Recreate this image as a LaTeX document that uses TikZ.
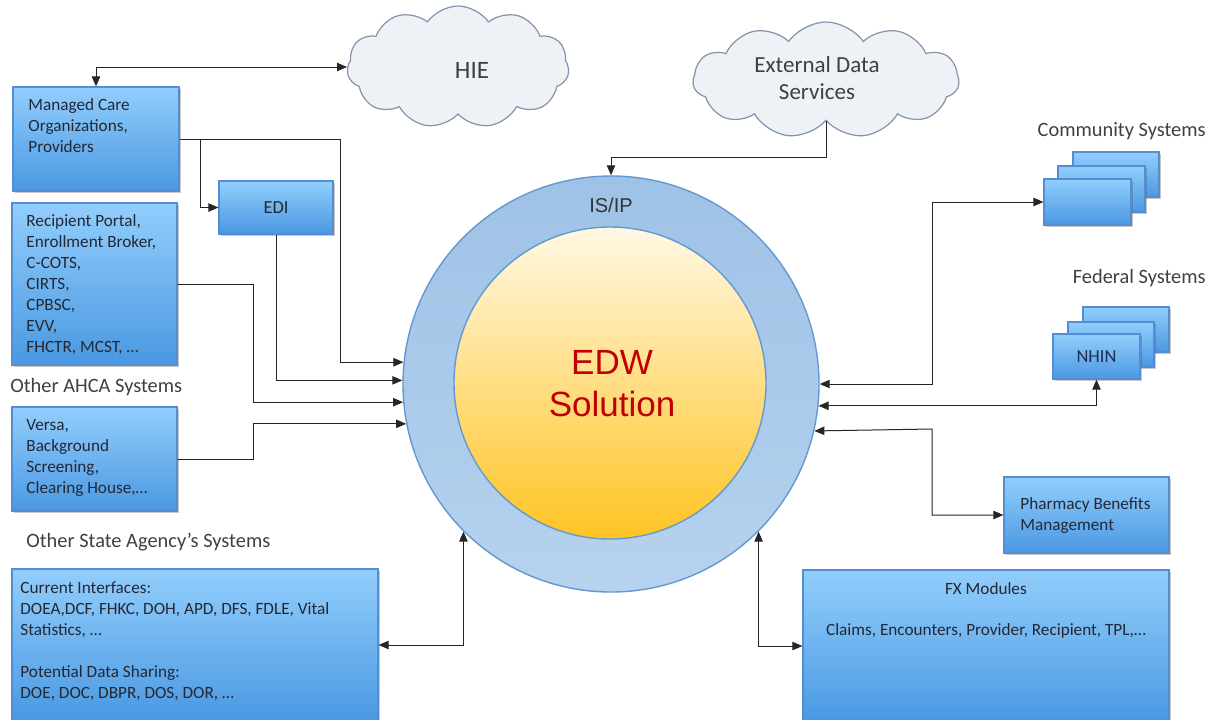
\documentclass[tikz,border=0pt]{standalone}
\usepackage{fontspec}
\setmainfont{Carlito}
\newfontfamily\arialf{Liberation Sans}
\usetikzlibrary{arrows.meta,shapes.symbols,shadows,fit,calc}
\definecolor{boxtop}{RGB}{146,206,252}
\definecolor{boxbot}{RGB}{74,152,226}
\definecolor{boxline}{RGB}{84,141,212}
\definecolor{ringtop}{RGB}{158,194,230}
\definecolor{ringbot}{RGB}{182,210,238}
\definecolor{ringline}{RGB}{100,152,208}
\definecolor{suntop}{RGB}{255,248,228}
\definecolor{sunmid}{RGB}{255,220,115}
\definecolor{sunbot}{RGB}{255,196,35}
\definecolor{cloudfill}{RGB}{238,241,246}
\definecolor{cloudline}{RGB}{132,146,170}
\definecolor{txt}{RGB}{36,40,52}
\definecolor{lbl}{RGB}{64,64,64}
\definecolor{edwred}{RGB}{192,0,0}
\begin{document}
\begin{tikzpicture}[x=0.5pt,y=-0.5pt,
 box/.style={draw=boxline, line width=0.6pt, top color=boxtop, bottom color=boxbot, inner sep=0pt,
   drop shadow={shadow xshift=1.2pt,shadow yshift=-1.2pt,opacity=0.3,fill=black!70}},
 btext/.style={font=\fontsize{8.6}{10.5}\selectfont, text=txt, align=left, inner sep=0pt, anchor=north west},
 ctext/.style={font=\fontsize{8.6}{10.5}\selectfont, text=txt, align=center, inner sep=0pt},
 lab/.style={font=\fontsize{10.2}{12}\selectfont, text=lbl, inner sep=0pt},
 cloudn/.style={cloud, cloud puffs=11, cloud puff arc=110, cloud ignores aspect, draw=cloudline,
   fill=cloudfill, line width=0.6pt, inner sep=0pt},
 cltext/.style={font=\fontsize{11.5}{13.5}\selectfont, text=black!75, align=center, inner sep=0pt},
 conn/.style={draw=black!85, line width=0.5pt},
 arr/.style={conn, -{Triangle[length=5pt,width=4.2pt]}},
 darr/.style={conn, {Triangle[length=5pt,width=4.2pt]}-{Triangle[length=5pt,width=4.2pt]}},
]
\useasboundingbox (0,0) rectangle (1213,719);
\fill[white] (0,0) rectangle (1213,719);

% clouds
\node[cloudn, minimum width=111pt, minimum height=61pt] (hie) at (458,67) {};
\node[cltext, font=\fontsize{12.5}{14}\selectfont] (hietxt) at (472,70) {HIE};
\node[cloudn, minimum width=133pt, minimum height=58pt] (eds) at (826,80) {};
\node[cltext] (edstxt) at (817,78) {External Data\\Services};

% central circles
\node[circle, draw=ringline, line width=0.7pt, top color=ringtop, bottom color=ringbot,
  minimum size=208pt, inner sep=0pt] (isip) at (611,384) {};
\node[circle, draw=ringline, line width=0.7pt, top color=suntop, middle color=sunmid, bottom color=sunbot,
  minimum size=156pt, inner sep=0pt] (edw) at (610,383) {};
\node[font=\arialf\fontsize{10}{12}\selectfont, text=black!80, inner sep=0pt] (isiplbl) at (611,205) {IS/IP};
\node[font=\arialf\fontsize{17.5}{21}\selectfont, text=edwred, align=center, inner sep=0pt] (edwlbl) at (612,384) {EDW\\Solution};

% left boxes
\node[box, fit={(13,87) (179,191)}] (mco) {};
\node[btext] (mcotxt) at (28,98) {Managed Care\\Organizations,\\Providers};
\node[box, fit={(219,181) (333,234)}] (edi) {};
\node[ctext, font=\fontsize{9.2}{11}\selectfont] (editxt) at (edi.center) {EDI};
\node[box, fit={(12,203) (177,365)}] (rec) {};
\node[btext] (rectxt) at (26,214) {Recipient Portal,\\Enrollment Broker,\\C-COTS,\\CIRTS,\\CPBSC,\\EVV,\\FHCTR, MCST, …};
\node[lab, anchor=west] (ahca) at (10,387) {Other AHCA Systems};
\node[box, fit={(12,407) (177,511)}] (versa) {};
\node[btext] (versatxt) at (26,419) {Versa,\\Background\\Screening,\\Clearing House,…};
\node[lab, anchor=west] (osas) at (26,542) {Other State Agency’s Systems};
\node[box, fit={(12,569) (378,721)}] (state) {};
\node[btext] (statetxt) at (20,581) {Current Interfaces:\\DOEA,DCF, FHKC, DOH, APD, DFS, FDLE, Vital\\Statistics, …\\[10.5pt]Potential Data Sharing:\\DOE, DOC, DBPR, DOS, DOR, …};

% right boxes
\node[lab, anchor=east] (comlbl) at (1206,131) {Community Systems};
\node[box, fit={(1073,152) (1159,197)}] (com3) {};
\node[box, fit={(1058,166) (1145,212)}] (com2) {};
\node[box, fit={(1044,179) (1131,225)}] (com1) {};
\node[lab, anchor=east] (fedlbl) at (1206,278) {Federal Systems};
\node[box, fit={(1083,307) (1169,352)}] (fed3) {};
\node[box, fit={(1068,322) (1154,367)}] (fed2) {};
\node[box, fit={(1053,334) (1140,379)}] (fed1) {};
\node[ctext, font=\fontsize{9.2}{11}\selectfont, text={rgb,255:red,31;green,45;blue,80}] (nhin) at (fed1.center) {NHIN};
\node[box, fit={(1004,477) (1169,553)}] (pbm) {};
\node[btext] (pbmtxt) at (1020,497) {Pharmacy Benefits\\Management};
\node[box, fit={(803,570) (1169,722)}] (fx) {};
\node[ctext] (fxtitle) at (986,589) {FX Modules};
\node[ctext] (fxtxt) at (986,631) {Claims, Encounters, Provider, Recipient, TPL,…};

% connectors
\coordinate (br) at (200,139);
\draw[darr] (mco.north) |- (hie.west);
\draw[arr] (eds.south) -- (eds.south |- 0,157) -| (isip.north);
\draw[arr] (mco.east) -- (340,139) |- (isip.174.2);
\draw[arr] (br) |- (edi.west);
\draw[arr] (edi.south) |- (isip.179.7);
\draw[arr] (rec.east) -- (253,284) |- (isip.185.5);
\draw[arr] (versa.east) -- (253,459) |- (isip.191.9);
\draw[darr] (isip.225.4) |- (state.east);
\draw[darr] (isip.315.1) |- (fx.west);
\draw[darr] (isip.0) -- (932,384) |- (com1.west);
\draw[darr] (isip.354.2) -| (fed1.south);
\draw[darr] (isip.347.5) -- (932,429) |- (pbm.west);
\end{tikzpicture}
\end{document}
